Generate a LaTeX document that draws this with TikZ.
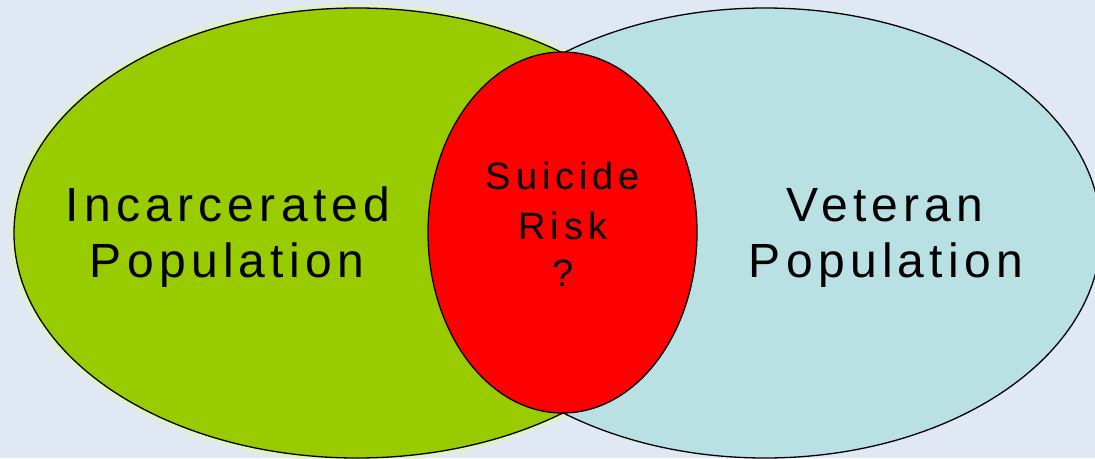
\documentclass[tikz,border=0pt]{standalone}
\usepackage{fontspec}
\setmainfont{Liberation Sans}
\definecolor{pagebg}{HTML}{E0E8F4}
\definecolor{incgreen}{HTML}{99CC00}
\definecolor{vetblue}{HTML}{B9E0E3}
\definecolor{riskred}{HTML}{FF0000}
\definecolor{haloc}{HTML}{E4F5B0}
\begin{document}
\begin{tikzpicture}[x=1pt,y=-1pt,
  region/.style={draw=black,line width=1.3pt},
  biglabel/.style={anchor=base,inner sep=0pt,text=black,
    font=\fontsize{48}{52}\selectfont\addfontfeatures{LetterSpace=11}},
  risklabel/.style={anchor=base,inner sep=0pt,text=black,
    font=\fontsize{38}{44}\selectfont\addfontfeatures{LetterSpace=13}},
]
\fill[pagebg] (0,0) rectangle (1095,458);
\useasboundingbox (0,0) rectangle (1095,458);
\begin{scope}
  \clip (0,0) rectangle (1095,458);
  % soft glow round the left set
  \draw[haloc,line width=9pt,opacity=0.6] (357,233) ellipse [x radius=343, y radius=225];
  \draw[region,fill=incgreen] (357,233) ellipse [x radius=343, y radius=225];
  \draw[region,fill=vetblue] (765,233) ellipse [x radius=336, y radius=225];
  \draw[region,fill=riskred] (562.5,232.5) ellipse [x radius=134.5, y radius=180.5];
\end{scope}
\node[biglabel] (inc1) at (228,221) {Incarcerated};
\node[biglabel] (inc2) at (227,277) {Population};
\node[biglabel] (vet1) at (885,221) {Veteran};
\node[biglabel] (vet2) at (886,277) {Population};
\node[risklabel] (risk1) at (563,189) {Suicide};
\node[risklabel] (risk2) at (563,239) {Risk};
\node[risklabel] (risk3) at (563,286) {?};
\end{tikzpicture}
\end{document}
